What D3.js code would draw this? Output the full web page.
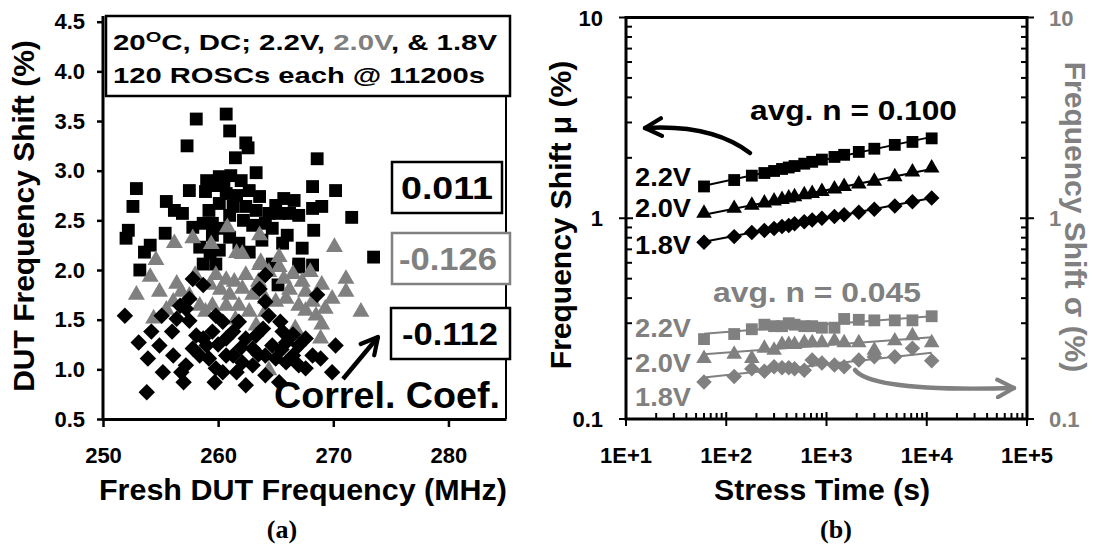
<!DOCTYPE html>
<html>
<head>
<meta charset="utf-8">
<script src="https://cdn.jsdelivr.net/npm/d3@7"></script>
<style>
  body { margin: 0; background: #fff; }
  text { font-family: "Liberation Sans", Arial, sans-serif; font-weight: bold; }
</style>
</head>
<body>
<div id="chart"></div>
<script>
// (a) scatter: [fresh frequency MHz, frequency shift %]
var pts22 = [[258.1,3.52],[260.7,3.57],[261.0,3.40],[257.3,3.25],[262.4,3.28],[262.6,3.23],[261.5,3.13],[268.6,3.12],
  [263.3,2.98],[252.9,2.82],[252.6,2.64],[260.1,2.94],[261.1,2.95],[259.8,2.85],[257.5,2.80],[255.5,2.69],[256.2,2.60],
  [256.9,2.57],[258.9,2.79],[260.7,2.77],[261.6,2.75],[262.7,2.80],[263.6,2.74],[265.7,2.72],[266.6,2.70],[268.2,2.84],
  [270.2,2.80],[268.2,2.62],[269.0,2.64],[271.6,2.53],[267.0,2.55],[259.2,2.60],[260.1,2.67],[261.3,2.64],[262.4,2.64],
  [263.3,2.60],[264.4,2.57],[265.3,2.57],[266.2,2.57],[257.8,2.43],[258.7,2.47],[259.5,2.47],[260.4,2.42],[264.1,2.47],
  [264.7,2.42],[252.2,2.40],[252.0,2.32],[255.4,2.37],[254.1,2.25],[253.6,2.18],[268.3,2.40],[267.3,2.22],[265.6,2.27],
  [261.0,2.33],[261.8,2.27],[262.7,2.18],[258.4,2.23],[259.3,2.17],[260.1,2.20],[273.5,2.13],[267.0,2.06],[268.2,2.05],
  [258.7,2.06],[259.8,2.06],[253.2,2.00],[267.0,2.03],[264.7,2.06],[265.2,1.85],[259.0,2.90],[260.5,2.85],[262.0,2.90],
  [261.0,2.55],[263.0,2.45],[265.0,2.65],[259.5,2.35],[262.2,2.50],[266.0,2.35],[263.8,2.30]];
var pts20 = [[260.8,2.43],[263.6,2.35],[256.2,2.27],[257.8,2.32],[259.4,2.26],[261.6,2.17],[262.1,2.16],[265.3,2.13],
  [270.1,2.23],[254.6,2.10],[263.7,2.08],[254.1,1.93],[252.9,1.75],[254.9,1.78],[256.4,1.86],[256.1,1.68],[257.5,1.74],
  [258.4,1.64],[259.3,1.85],[259.8,1.95],[260.7,1.90],[261.4,1.88],[262.1,1.81],[263.0,1.75],[263.6,2.05],[264.4,1.98],
  [265.3,2.03],[265.7,1.91],[266.5,1.96],[267.3,1.88],[267.6,1.78],[268.2,1.68],[269.0,1.85],[269.9,1.71],[271.1,1.91],
  [271.1,1.78],[272.4,1.58],[259.5,1.64],[260.7,1.64],[261.8,1.64],[262.7,1.58],[264.1,1.58],[265.9,1.71],[267.0,1.64],
  [268.5,1.54],[258.9,1.58],[263.3,1.44],[266.7,1.41],[267.0,1.34],[268.9,1.31],[264.4,0.99],[254.4,1.51],[256.8,1.78],
  [261.0,1.75],[262.4,1.95],[264.1,1.71],[265.0,1.68],[267.6,1.59],[269.3,1.61],[258.0,1.95],[260.2,1.80],[263.5,1.88],
  [266.2,1.80],[261.5,1.50],[268.0,1.98],[269.0,1.45],[255.5,1.60]];
var pts18 = [[251.9,1.54],[253.1,1.27],[253.9,1.11],[253.8,0.77],[254.9,1.24],[254.2,1.38],[255.1,1.54],[255.2,0.97],
  [256.1,1.14],[256.0,1.38],[256.8,0.97],[257.0,0.87],[257.2,1.04],[256.7,1.64],[256.4,1.51],[257.5,1.49],[257.8,1.91],
  [258.7,1.85],[258.1,1.34],[259.0,1.24],[259.2,1.11],[259.8,1.01],[259.7,0.87],[260.4,1.48],[260.7,1.31],[261.3,1.14],
  [261.6,0.97],[262.4,0.84],[262.4,1.31],[263.0,1.21],[263.6,1.81],[263.9,1.41],[264.4,1.54],[264.7,1.24],[265.0,1.11],
  [265.4,1.48],[265.9,1.27],[266.5,1.14],[267.0,1.04],[267.6,1.31],[268.2,1.14],[268.6,1.75],[268.9,1.11],[269.9,0.97],
  [270.2,1.24],[258.4,1.14],[259.5,1.38],[261.8,1.48],[263.0,1.04],[265.3,0.87],[264.1,1.68],[257.2,1.61],[259.8,1.54],
  [261.3,1.38],[263.3,1.34],[265.6,1.38],[267.0,1.24],[260.7,1.14],[262.1,1.07],[264.1,1.14],[257.8,1.21],[258.7,1.31],
  [260.4,0.97],[264.1,0.94],[265.9,1.07],[267.6,1.01],[257.5,1.71],[264.1,1.95],[262.0,1.22],[263.5,1.15],[265.5,1.20],
  [260.0,1.25],[266.5,1.35]];
var xTicksA = [250, 260, 270, 280];
var yTicksA = [0.5, 1.0, 1.5, 2.0, 2.5, 3.0, 3.5, 4.0, 4.5];
var corrCoef = ["0.011", "-0.126", "-0.112"];

// (b) time evolution: stress time (s), mean and sigma of frequency shift (%)
var stressTime = [60, 120, 180, 240, 300, 360, 420, 480, 600, 720, 900, 1200, 1500, 2100, 3000, 4800, 7200, 11200];
var mu22 = [1.44, 1.55, 1.63, 1.68, 1.72, 1.76, 1.79, 1.82, 1.87, 1.91, 1.96, 2.02, 2.07, 2.14, 2.22, 2.32, 2.40, 2.50];
var mu20 = [1.06, 1.12, 1.16, 1.19, 1.22, 1.24, 1.26, 1.28, 1.31, 1.33, 1.36, 1.40, 1.44, 1.48, 1.53, 1.61, 1.70, 1.78];
var mu18 = [0.76, 0.81, 0.85, 0.87, 0.89, 0.91, 0.92, 0.94, 0.96, 0.98, 1.00, 1.02, 1.04, 1.07, 1.11, 1.15, 1.21, 1.26];
var sig22 = [0.25, 0.265, 0.28, 0.295, 0.29, 0.29, 0.30, 0.295, 0.29, 0.29, 0.285, 0.285, 0.315, 0.312, 0.31, 0.31, 0.31, 0.325];
var sig20 = [0.20, 0.21, 0.20, 0.225, 0.22, 0.235, 0.235, 0.235, 0.24, 0.24, 0.24, 0.245, 0.24, 0.24, 0.22, 0.245, 0.26, 0.24];
var sig18 = [0.153, 0.163, 0.178, 0.173, 0.182, 0.18, 0.18, 0.178, 0.175, 0.197, 0.19, 0.186, 0.182, 0.197, 0.204, 0.204, 0.225, 0.195];
var xTicksB = ["1E+1", "1E+2", "1E+3", "1E+4", "1E+5"];
var yTicksB = ["0.1", "1", "10"];

var GREY = "#808080";
var svg = d3.select("#chart").append("svg").attr("width", 1104).attr("height", 548);

var defs = svg.append("defs");
[["chevK", "#000"], ["chevG", GREY]].forEach(function(m) {
  defs.append("marker")
      .attr("id", m[0]).attr("viewBox", "0 0 10 10").attr("refX", 8.5).attr("refY", 5)
      .attr("markerWidth", 22).attr("markerHeight", 22).attr("markerUnits", "userSpaceOnUse")
      .attr("orient", "auto")
    .append("path")
      .attr("d", "M1,1 L8.5,5 L1,9")
      .attr("fill", "none").attr("stroke", m[1]).attr("stroke-width", 1.9)
      .attr("stroke-linecap", "round").attr("stroke-linejoin", "round");
});

function txt(g, x, y, s, size, opt) {
  opt = opt || {};
  var t = g.append("text").attr("x", x).attr("y", y)
      .style("font-size", size + "px")
      .attr("fill", opt.fill || "#000")
      .attr("text-anchor", opt.anchor || "start")
      .text(s);
  if (opt.len) t.attr("textLength", opt.len).attr("lengthAdjust", "spacingAndGlyphs");
  if (opt.transform) t.attr("transform", opt.transform).attr("x", 0).attr("y", 0);
  if (opt.family) t.style("font-family", opt.family);
  return t;
}

var sym = {
  square: d3.symbol().type(d3.symbolSquare),
  triangle: d3.symbol().type(d3.symbolTriangle)
};
function symPath(shape, size) {
  return shape === "triangle" ? sym.triangle.size(size)() : sym.square.size(size)();
}

// ================= (a) =================
var xA = d3.scaleLinear().domain([250, 285]).range([103, 506]);
var yA = d3.scaleLinear().domain([0.5, 4.5]).range([419, 21.7]);
var gA = svg.append("g");

gA.append("line").attr("x1", 506).attr("x2", 506).attr("y1", 16).attr("y2", 419)
  .attr("stroke", "#000").attr("stroke-width", 2);

var seriesA = [
  { pts: pts22, shape: "square", size: 165, fill: "#000", rot: 0 },
  { pts: pts20, shape: "triangle", size: 125, fill: GREY, rot: 0 },
  { pts: pts18, shape: "diamond", size: 135, fill: "#000", rot: 45 }
];
seriesA.forEach(function(s) {
  gA.append("g").selectAll("path")
    .data(s.pts)
    .enter().append("path")
      .attr("d", symPath(s.shape, s.size))
      .attr("transform", function(d) {
        return "translate(" + xA(d[0]) + "," + yA(d[1]) + ") rotate(" + s.rot + ")";
      })
      .attr("fill", s.fill);
});

// y axis
var axYA = gA.append("g").attr("transform", "translate(103,0)")
  .call(d3.axisLeft(yA).tickValues(yTicksA).tickFormat(d3.format(".1f")).tickSize(6).tickSizeOuter(0).tickPadding(12));
// x axis
var axXA = gA.append("g").attr("transform", "translate(0,419)")
  .call(d3.axisBottom(xA).tickValues(xTicksA).tickFormat(d3.format("d")).tickSize(8).tickSizeOuter(0).tickPadding(20));
[axYA, axXA].forEach(function(ax) {
  ax.select(".domain").attr("stroke-width", 3);
  ax.selectAll(".tick line").attr("stroke-width", 2.5);
  ax.selectAll("text").style("font-size", "22px").style("font-family", "Liberation Sans, Arial, sans-serif")
    .style("font-weight", "bold");
});
axYA.select(".domain").attr("d", "M0,16V420.5");

// condition text box
gA.append("rect").attr("x", 106).attr("y", 16).attr("width", 404).attr("height", 80)
  .attr("fill", "#fff").attr("stroke", "#000").attr("stroke-width", 2.5);
var l1 = gA.append("text").attr("x", 113).attr("y", 50).style("font-size", "22px")
  .attr("textLength", 384).attr("lengthAdjust", "spacingAndGlyphs");
l1.append("tspan").text("20");
l1.append("tspan").attr("dy", -8).style("font-size", "15px").text("O");
l1.append("tspan").attr("dy", 8).text("C, DC; 2.2V, ");
l1.append("tspan").attr("fill", GREY).text("2.0V");
l1.append("tspan").text(", & 1.8V");
txt(gA, 113, 83, "120 ROSCs each @ 11200s", 22, { len: 372 });

// correlation coefficient boxes
var boxes = [
  { y: 162, x: 392, w: 110, c: "#000", tx: 401, len: 92 },
  { y: 233, x: 392, w: 118, c: GREY, tx: 399, len: 98 },
  { y: 308, x: 391, w: 119, c: "#000", tx: 402, len: 96 }
];
boxes.forEach(function(b, i) {
  gA.append("rect").attr("x", b.x).attr("y", b.y).attr("width", b.w).attr("height", 51)
    .attr("fill", "#fff").attr("stroke", b.c).attr("stroke-width", 2.5);
  txt(gA, b.tx, b.y + 37, corrCoef[i], 32, { fill: b.c, len: b.len });
});
txt(gA, 274, 408, "Correl. Coef.", 37, { len: 226 });
gA.append("line").attr("x1", 343).attr("y1", 379).attr("x2", 378).attr("y2", 337)
  .attr("stroke", "#000").attr("stroke-width", 4.5).attr("marker-end", "url(#chevK)");

txt(gA, 0, 0, "DUT Frequency Shift (%)", 30, { anchor: "middle", transform: "translate(34,216) rotate(-90)" });
txt(gA, 303, 500, "Fresh DUT Frequency (MHz)", 30, { anchor: "middle", len: 408 });
txt(gA, 282, 538, "(a)", 26, { anchor: "middle", family: "Liberation Serif, Times New Roman, serif" });

// ================= (b) =================
var xB = d3.scaleLog().domain([10, 1e5]).range([626, 1027]);
var yB = d3.scaleLog().domain([0.1, 10]).range([419, 17.5]);
var gB = svg.append("g");

function isMajor(v) { var l = Math.log10(v); return Math.abs(l - Math.round(l)) < 1e-9; }

function powerFit(ts, vs) {
  var lx = ts.map(Math.log), ly = vs.map(Math.log);
  var mx = d3.mean(lx), my = d3.mean(ly);
  var b = d3.sum(lx, function(v, i) { return (v - mx) * (ly[i] - my); }) /
          d3.sum(lx, function(v) { return (v - mx) * (v - mx); });
  var a = my - b * mx;
  return function(t) { return Math.exp(a + b * Math.log(t)); };
}

var seriesB = [
  { v: sig22, shape: "square", size: 140, c: GREY, rot: 0 },
  { v: sig20, shape: "triangle", size: 105, c: GREY, rot: 0 },
  { v: sig18, shape: "diamond", size: 120, c: GREY, rot: 45 },
  { v: mu22, shape: "square", size: 140, c: "#000", rot: 0 },
  { v: mu20, shape: "triangle", size: 105, c: "#000", rot: 0 },
  { v: mu18, shape: "diamond", size: 120, c: "#000", rot: 45 }
];
var lineB = d3.line().x(function(d) { return xB(d[0]); }).y(function(d) { return yB(d[1]); });
seriesB.forEach(function(s) {
  var f = powerFit(stressTime, s.v);
  var ends = [stressTime[0], stressTime[stressTime.length - 1]];
  gB.append("path").datum(ends.map(function(t) { return [t, f(t)]; }))
    .attr("d", lineB).attr("fill", "none").attr("stroke", s.c).attr("stroke-width", 2);
  gB.append("g").selectAll("path")
    .data(s.v)
    .enter().append("path")
      .attr("d", symPath(s.shape, s.size))
      .attr("transform", function(d, i) {
        return "translate(" + xB(stressTime[i]) + "," + yB(d) + ") rotate(" + s.rot + ")";
      })
      .attr("fill", s.c);
});

// frame
gB.append("rect").attr("x", 626).attr("y", 17.5).attr("width", 401).attr("height", 401.5)
  .attr("fill", "none").attr("stroke", "#000").attr("stroke-width", 3);

// ticks
var tx = gB.append("g").attr("stroke", "#000").attr("stroke-width", 2);
xB.ticks().forEach(function(v) {
  var big = isMajor(v);
  tx.append("line").attr("x1", xB(v)).attr("x2", xB(v))
    .attr("y1", 419 - (big ? 7 : 6)).attr("y2", 419 + (big ? 7 : 0));
});
yB.ticks().forEach(function(v) {
  var big = isMajor(v);
  tx.append("line").attr("y1", yB(v)).attr("y2", yB(v))
    .attr("x1", 626 - (big ? 7 : 0)).attr("x2", 626 + (big ? 7 : 6));
  tx.append("line").attr("y1", yB(v)).attr("y2", yB(v))
    .attr("x1", 1027 - (big ? 7 : 6)).attr("x2", 1027 + (big ? 7 : 0));
});
xTicksB.forEach(function(s) {
  txt(gB, xB(+s), 463, s, 22, { anchor: "middle" });
});
yTicksB.forEach(function(s) {
  txt(gB, 603, yB(+s) + 8, s, 22, { anchor: "end" });
  txt(gB, 1049, yB(+s) + 8, s, 22, { fill: GREY });
});

// annotations
txt(gB, 750, 120, "avg. n = 0.100", 28, { len: 207 });
txt(gB, 713, 302, "avg. n = 0.045", 28, { fill: GREY, len: 208 });
[["2.2V", 186], ["2.0V", 217], ["1.8V", 254]].forEach(function(d) {
  txt(gB, 635, d[1], d[0], 25, { len: 56 });
});
[["2.2V", 337], ["2.0V", 372], ["1.8V", 406]].forEach(function(d) {
  txt(gB, 635, d[1], d[0], 25, { fill: GREY, len: 56 });
});
gB.append("path").attr("d", "M750,153 Q712,124 645,128")
  .attr("fill", "none").attr("stroke", "#000").attr("stroke-width", 4.5).attr("stroke-linecap", "round")
  .attr("marker-end", "url(#chevK)");
gB.append("path").attr("d", "M855,370 Q872,392 1014,388")
  .attr("fill", "none").attr("stroke", GREY).attr("stroke-width", 4.5).attr("stroke-linecap", "round")
  .attr("marker-end", "url(#chevG)");

txt(gB, 0, 0, "Frequency Shift \u03bc (%)", 30, { anchor: "middle", transform: "translate(571,215) rotate(-90)" });
txt(gB, 0, 0, "Frequency Shift \u03c3 (%)", 30, { anchor: "middle", fill: GREY, transform: "translate(1065,217) rotate(90)" });
txt(gB, 822, 500, "Stress Time (s)", 29, { anchor: "middle", len: 216 });
txt(gB, 836, 538, "(b)", 26, { anchor: "middle", family: "Liberation Serif, Times New Roman, serif" });
</script>
</body>
</html>
